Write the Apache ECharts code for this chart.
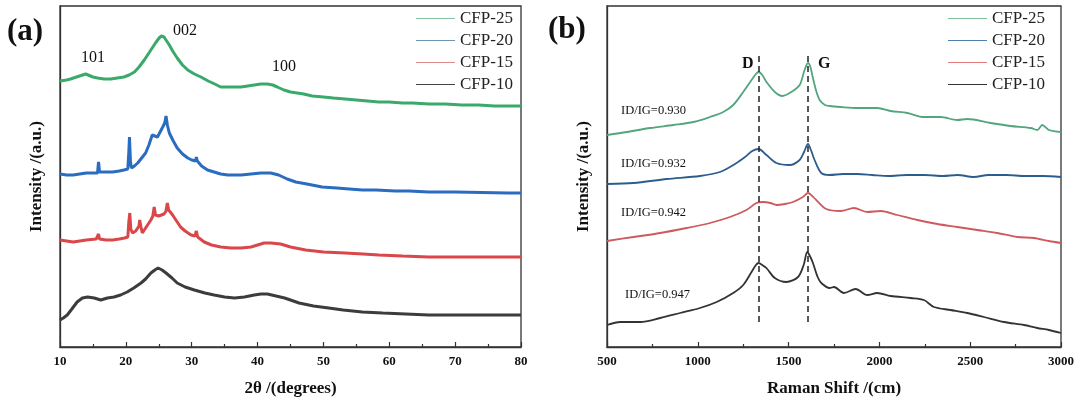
<!DOCTYPE html>
<html>
<head>
<meta charset="utf-8">
<title>XRD / Raman</title>
<script src="https://cdn.jsdelivr.net/npm/echarts@6/dist/echarts.min.js"></script>
<style>
	html, body { margin: 0; padding: 0; background: #fff; }
	#chart_id { width: 1080px; height: 403px; }
</style>
</head>
<body>
<div id="chart_id"></div>
<script>
// series names
var names = ['CFP-25', 'CFP-20', 'CFP-15', 'CFP-10'];

// (a) XRD, 2theta (deg) vs intensity (offset, a.u.)
var xrd25 = [[10,266],[11,267],[11.6,268],[12.5,270],[13.9,273],[15,270],[15.7,269],[16.7,268],[17.7,268],[18.7,269],[19.7,270],[20.5,272],[21.3,275],[22,280],[22.8,287],[23.5,294],[24,299],[24.5,304],[25.05,309],[25.4,311],[25.8,310],[26.2,306],[26.6,302],[27.2,295],[27.8,289],[28.6,282],[29.4,277],[30.4,273],[31.4,270],[32.5,266],[33.5,263],[34.4,260],[35.5,260],[36.5,260],[37.5,260],[38.5,261],[39.5,262],[40.5,263],[41.5,263],[42.3,262],[43,260],[44,257],[45,255],[46,254],[47,253],[48.3,251],[50,250],[51.5,249],[53.3,248],[55,247],[56.7,246],[58.4,245],[60,245],[62,244],[63.5,244],[66,243],[68.5,243],[71,242],[73.5,242],[76,241],[78,241],[80,241]];
var xrd20 = [[10,173],[11,172],[12,172],[13,173],[14,174],[15,174],[15.7,174],[15.85,185],[16,175],[17,175],[18,175],[19,176],[19.7,177],[20.3,178],[20.45,195],[20.55,210],[20.7,185],[20.85,179],[21.3,181],[21.8,184],[22.4,189],[23,194],[23.5,202],[24,212],[24.4,211],[24.8,210],[25.2,215],[25.6,220],[25.9,224],[26.1,231],[26.3,222],[26.6,214],[27.2,206],[27.8,199],[28.6,193],[29.4,189],[30,187],[30.6,186],[30.7,190],[30.85,186],[31.5,181],[32.4,177],[33.4,175],[34.4,173],[35.5,172],[37.5,172],[39,173],[40.5,174],[42,174],[43.2,172],[44.5,168],[45.8,165],[47.5,163],[49.8,160],[52,159],[55.9,157],[58,157],[60.9,156],[63,156],[66,155],[70,155],[74,154.5],[78,154],[80,154]];
var xrd15 = [[10,107],[11,106],[12,105],[13,106],[14,107],[15.5,108],[15.7,108],[15.85,113],[16,108],[17,107],[18,107],[19,108],[19.8,109],[20.3,110],[20.45,125],[20.6,134],[20.75,118],[21,114],[21.5,116],[22,121],[22.1,127],[22.3,120],[22.5,114],[23,119],[23.3,122],[23.8,127],[24.1,131],[24.3,140],[24.5,132],[25,131],[25.3,130],[25.8,133],[26.1,136],[26.3,144],[26.5,137],[27.1,132],[27.7,126],[28.3,120],[29,116],[29.9,112],[30.5,111],[30.7,116],[30.9,110],[31.9,105],[33,102],[34.4,100],[36,99],[37.5,99],[39,100],[40,102],[41,104],[42,104],[43.5,103],[45,100],[47.3,97],[50,95],[53.3,94],[56,93],[58.4,92],[62,91],[66,90],[70,90],[75,90],[80,90]];
var xrd10 = [[10,27],[10.5,29],[11.1,32],[11.8,38],[12.6,45],[13.4,49],[14.2,50],[15.2,49],[16.2,47],[17.2,49],[18.2,50],[19.2,52],[20.2,55],[21.2,59],[22.3,64],[23,68],[23.8,74],[24.4,77],[24.9,79],[25.5,77],[26.1,74],[27,69],[27.8,64],[29,60],[30.4,57],[32,54],[33.4,52],[35,50],[36.5,49],[38,50],[39.5,52],[40.5,53],[41.5,53],[42.8,51],[44.1,49],[45,47],[46.3,44],[48.5,41],[50.8,39],[53,37],[55.9,35],[59,34],[62.5,33],[66,32],[70,32],[75,32],[80,32]];

// (b) Raman, shift (cm-1) vs intensity (offset, a.u.)
var ram25 = [[500,212],[610,215],[738,219],[866,222],[976,225],[1067,230],[1140,235],[1195,242],[1250,255],[1296,267],[1320,273],[1335,275],[1355,272],[1378,265],[1424,255],[1466,251],[1515,255],[1561,262],[1588,277],[1607,284],[1620,280],[1634,269],[1652,256],[1671,247],[1700,242],[1726,241],[1787,240],[1878,239],[1988,239],[2062,236],[2154,234],[2245,230],[2337,230],[2429,227],[2484,228],[2612,224],[2722,221],[2833,219],[2869,217],[2897,222],[2933,217],[3000,215]];
var ram20 = [[500,163],[646,164],[829,168],[1012,171],[1122,175],[1213,184],[1260,190],[1300,196],[1335,198],[1378,192],[1433,184],[1506,182],[1561,187],[1585,195],[1607,203],[1625,196],[1643,187],[1680,174],[1726,172],[1800,173],[1880,173],[1960,172],[2050,171],[2150,172],[2250,172],[2350,171],[2430,172],[2520,170],[2600,172],[2700,172],[2800,171],[2900,171],[3000,170]];
var ram15 = [[500,106],[646,110],[793,114],[939,119],[1067,124],[1177,130],[1268,137],[1323,144],[1360,145],[1400,144],[1433,142],[1480,143],[1524,145],[1579,150],[1607,154],[1630,151],[1652,147],[1707,138],[1787,136],[1860,139],[1933,135],[2007,136],[2099,132],[2209,127],[2319,123],[2429,120],[2539,117],[2649,114],[2759,110],[2851,109],[2933,106],[3000,104]];
var ram10 = [[500,22],[573,25],[683,25],[793,29],[902,34],[1012,39],[1104,45],[1195,54],[1250,62],[1296,75],[1320,82],[1335,84],[1355,82],[1378,79],[1424,69],[1488,65],[1552,70],[1583,82],[1603,95],[1620,90],[1634,84],[1660,70],[1680,64],[1726,59],[1750,60],[1805,54],[1869,58],[1933,52],[1988,54],[2062,51],[2172,49],[2245,47],[2300,40],[2392,37],[2484,34],[2576,30],[2686,25],[2796,22],[2869,19],[2933,17],[3000,14]];

// D / G band positions and ID/IG ratios
var bandPos = [1333, 1608];
var bandNames = ['D', 'G'];
var ratios = ['ID/IG=0.930', 'ID/IG=0.932', 'ID/IG=0.942', 'ID/IG=0.947'];

// XRD peak labels
var peakNames = ['101', '002', '100'];

var colorsA = ['#3aa96b', '#2a6cc0', '#d9474a', '#3c3c3c'];
var colorsB = ['#52a57e', '#2d5d8c', '#cc5a5e', '#333333'];
var legendA = ['#86c2a6', '#6f95b5', '#d98b8e', '#444444'];
var legendB = ['#7fbfa0', '#4f7fa8', '#e07a7c', '#333333'];

var FONT = '"Liberation Serif", "Times New Roman", serif';

function makeX(gridIndex, min, max, interval, name) {
	return {
		type : 'value',
		gridIndex : gridIndex,
		min : min,
		max : max,
		interval : interval,
		name : name,
		nameLocation : 'middle',
		nameGap : 33,
		nameTextStyle : { fontFamily : FONT, fontWeight : 'bold', fontSize : 17, color : '#111' },
		axisLine : { lineStyle : { color : '#333', width : 1.3 } },
		axisTick : { inside : true, length : 5, lineStyle : { color : '#333', width : 1.2 } },
		minorTick : { show : true, splitNumber : 2, length : 3, lineStyle : { color : '#333', width : 1.2 } },
		axisLabel : {
			fontFamily : FONT, fontWeight : 'bold', fontSize : 13, color : '#111', margin : 8,
			formatter : function(v) { return String(v); }
		},
		splitLine : { show : false }
	};
}
function makeY(gridIndex) {
	return {
		type : 'value',
		gridIndex : gridIndex,
		min : 0,
		max : 341,
		name : 'Intensity /(a.u.)',
		nameLocation : 'middle',
		nameGap : 15,
		nameTextStyle : { fontFamily : FONT, fontWeight : 'bold', fontSize : 17, color : '#111' },
		axisLine : { show : true, lineStyle : { color : '#333', width : 1.3 } },
		axisTick : { show : false },
		axisLabel : { show : false },
		splitLine : { show : false }
	};
}
function makeLegend(left, colors) {
	return {
		orient : 'vertical',
		left : left,
		top : 10,
		padding : 0,
		icon : 'rect',
		itemWidth : 39,
		itemHeight : 1.2,
		itemGap : 5,
		textStyle : { fontFamily : FONT, fontSize : 17, color : '#222', lineHeight : 17 },
		data : names.map(function(n, i) {
			return { name : n, itemStyle : { color : colors[i] } };
		})
	};
}
function txt(x, y, s, size, bold) {
	return {
		type : 'text',
		left : x,
		top : y,
		style : { text : s, fontFamily : FONT, fontSize : size, fontWeight : bold ? 'bold' : 'normal', fill : '#111' }
	};
}

var myChart = echarts.init(document.getElementById('chart_id'));

var xrdData = [xrd25, xrd20, xrd15, xrd10];
var ramData = [ram25, ram20, ram15, ram10];
var series = [];
xrdData.forEach(function(d, i) {
	series.push({
		name : names[i], type : 'line', xAxisIndex : 0, yAxisIndex : 0,
		data : d, showSymbol : false, smooth : false,
		lineStyle : { color : colorsA[i], width : 3 },
		itemStyle : { color : colorsA[i] }
	});
});
ramData.forEach(function(d, i) {
	var s = {
		name : names[i], type : 'line', xAxisIndex : 1, yAxisIndex : 1,
		data : d, showSymbol : false, smooth : 0.3,
		lineStyle : { color : colorsB[i], width : 1.8 },
		itemStyle : { color : colorsB[i] }
	};
	// dashed D / G guides
	if (i == 3) {
		s.markLine = {
			silent : true,
			symbol : 'none',
			label : { show : false },
			lineStyle : { color : '#222', type : [6, 4], width : 1.5 },
			data : bandPos.map(function(p) { return [ { coord : [p, 25] }, { coord : [p, 295] } ]; })
		};
	}
	series.push(s);
});

option = {
	animation : false,
	grid : [
		{ left : 60, top : 6, width : 461, height : 341, show : true, borderColor : '#333', borderWidth : 1.3 },
		{ left : 607, top : 6, width : 454, height : 341, show : true, borderColor : '#333', borderWidth : 1.3 }
	],
	xAxis : [ makeX(0, 10, 80, 10, '2θ /(degrees)'), makeX(1, 500, 3000, 500, 'Raman Shift /(cm)') ],
	yAxis : [ makeY(0), makeY(1) ],
	legend : [ makeLegend(416, legendA), makeLegend(948, legendB) ],
	graphic : [
		txt(7, 16, '(a)', 31, true),
		txt(548, 14, '(b)', 31, true),
		txt(81, 50, peakNames[0], 16, false),
		txt(173, 23, peakNames[1], 16, false),
		txt(272, 59, peakNames[2], 16, false),
		txt(742, 56, bandNames[0], 16, true),
		txt(818, 56, bandNames[1], 16, true),
		txt(621, 104, ratios[0], 12.5, false),
		txt(621, 157, ratios[1], 12.5, false),
		txt(621, 206, ratios[2], 12.5, false),
		txt(625, 288, ratios[3], 12.5, false)
	],
	series : series
};

myChart.setOption(option);
</script>
</body>
</html>
